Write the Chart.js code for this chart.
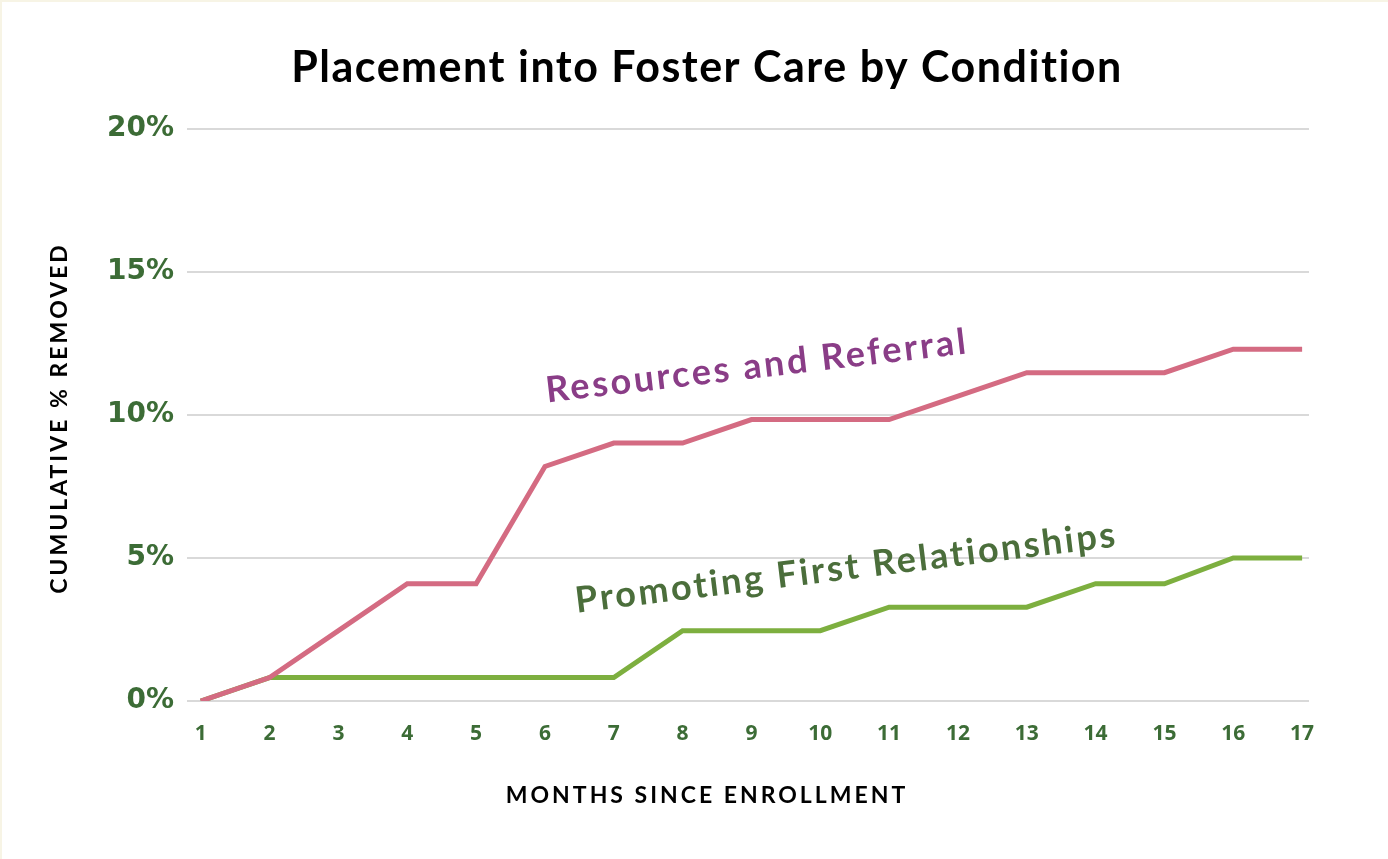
<!DOCTYPE html>
<html>
<head>
<meta charset="utf-8">
<script src="https://cdn.jsdelivr.net/npm/chart.js@4/dist/chart.umd.min.js"></script>
<style>
  html, body { margin: 0; padding: 0; background: #f7f4e5; }
  #wrap { position: absolute; left: 2px; top: 2px; width: 1386px; height: 857px; background: #fff; }
  canvas { display: block; }
</style>
</head>
<body>
<div id="wrap"><canvas id="fosterChart" width="1386" height="857"></canvas></div>
<script>
// months since enrollment
const months = [1, 2, 3, 4, 5, 6, 7, 8, 9, 10, 11, 12, 13, 14, 15, 16, 17];
// cumulative % removed
const resourcesReferral = [0, 0.82, 2.46, 4.1, 4.1, 8.2, 9.02, 9.02, 9.84, 9.84, 9.84, 10.66, 11.48, 11.48, 11.48, 12.3, 12.3];
const promotingFirst = [0, 0.82, 0.82, 0.82, 0.82, 0.82, 0.82, 2.46, 2.46, 2.46, 3.28, 3.28, 3.28, 4.1, 4.1, 5.0, 5.0];
const yTicks = [0, 5, 10, 15, 20];

const seriesNames = ["Resources and Referral", "Promoting First Relationships"];
const chartTitle = "Placement into Foster Care by Condition";
const xTitle = "MONTHS SINCE ENROLLMENT";
const yTitle = "CUMULATIVE % REMOVED";

const tickGreen = "#3c6c36";

function drawText(ctx, text, x, y, angle, font, color, spacing) {
  ctx.save();
  ctx.translate(x, y);
  ctx.rotate(angle);
  ctx.font = font;
  ctx.fillStyle = color;
  ctx.textAlign = "left";
  ctx.textBaseline = "alphabetic";
  ctx.letterSpacing = (spacing || 0) + "px";
  const w = ctx.measureText(text).width;
  ctx.fillText(text, -w / 2, 0);
  ctx.restore();
}

// titles and the rotated series labels
const textPlugin = {
  id: "texts",
  afterDraw(chart) {
    const ctx = chart.ctx;
    const x = chart.scales.x, y = chart.scales.y;
    drawText(ctx, chartTitle, 705, 80, 0, "700 43px Lato", "#000", 1.5);
    drawText(ctx, xTitle, 705, 801, 0, "700 23px Lato", "#000", 3);
    drawText(ctx, yTitle, 65, 416, -Math.PI / 2, "700 23px Lato", "#000", 3);
    // series labels anchored in data space
    drawText(ctx, seriesNames[0], x.getPixelForValue(9.1), y.getPixelForValue(11.3), -0.116,
      "700 36px Lato", "#8a3d87", 2.7);
    drawText(ctx, seriesNames[1], x.getPixelForValue(10.4), y.getPixelForValue(4.25), -0.122,
      "700 36px Lato", "#4b6e3b", 2.6);
  }
};

const ctx = document.getElementById("fosterChart").getContext("2d");
new Chart(ctx, {
  type: "line",
  data: {
    datasets: [
      {
        label: seriesNames[0],
        data: months.map((m, i) => ({ x: m, y: resourcesReferral[i] })),
        borderColor: "#d46b82",
        borderWidth: 5,
        pointRadius: 0,
        tension: 0
      },
      {
        label: seriesNames[1],
        data: months.map((m, i) => ({ x: m, y: promotingFirst[i] })),
        borderColor: "#7daf3f",
        borderWidth: 5,
        pointRadius: 0,
        tension: 0
      }
    ]
  },
  options: {
    responsive: false,
    animation: false,
    layout: { padding: { left: 0, right: 79, top: 127, bottom: 0 } },
    plugins: {
      legend: { display: false },
      tooltip: { enabled: false }
    },
    scales: {
      x: {
        type: "linear",
        min: 0.8,
        max: 17.1,
        grid: { display: false },
        border: { display: false },
        afterFit(scale) { scale.height = 857 - 699; },
        ticks: {
          stepSize: 1,
          maxTicksLimit: 40,
          includeBounds: false,
          autoSkip: false,
          maxRotation: 0,
          padding: 12,
          color: tickGreen,
          font: { family: "Open Sans", weight: "700", size: 21 },
          callback: v => Number.isInteger(v) ? String(v) : ""
        }
      },
      y: {
        min: 0,
        max: 20,
        afterFit(scale) { scale.width = 185; },
        afterBuildTicks(scale) { scale.ticks = yTicks.map(v => ({ value: v })); },
        grid: { color: "#d9d9d9", lineWidth: 2, drawTicks: false },
        border: { display: false },
        ticks: {
          padding: 13,
          color: tickGreen,
          font: { family: "DejaVu Sans", weight: "700", size: 28 },
          callback: v => v + "%"
        }
      }
    }
  },
  plugins: [textPlugin]
});
</script>
</body>
</html>
